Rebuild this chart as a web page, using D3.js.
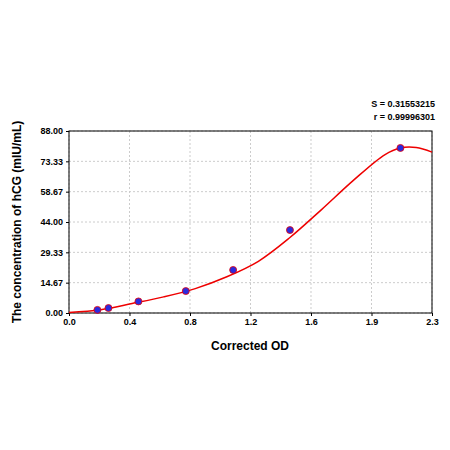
<!DOCTYPE html><html><head><meta charset="utf-8">
<script src="https://cdn.jsdelivr.net/npm/d3@7"></script>
<style>body{margin:0;background:#fff}text{font-family:"Liberation Sans",Arial,sans-serif}</style></head><body>
<svg id="c" width="450" height="450"></svg>
<script>
const xTickVals=[0,0.3833,0.7667,1.15,1.5333,1.9167,2.3];
const xTickLabels=["0.0","0.4","0.8","1.2","1.6","1.9","2.3"];
const yTickVals=[0,14.67,29.33,44,58.67,73.33,88];
const yTickLabels=["0.00","14.67","29.33","44.00","58.67","73.33","88.00"];
const ptX=[0.18,0.25,0.44,0.74,1.04,1.40,2.10];
const ptY=[1.5,2.4,5.6,10.6,20.8,40.1,79.8];
const curveX=[0,0.2,0.4,0.6,0.8,1.0,1.2,1.4,1.6,1.8,2.0,2.1,2.2,2.3];
const curveY=[0.3,1.6,4.6,7.8,11.8,17.5,25,36.5,50,64,76.5,79.8,80,77.8];
const svg=d3.select("#c");
const x=d3.scaleLinear().domain([0,2.3]).range([69,432]);
const y=d3.scaleLinear().domain([0,88]).range([313,131]);
const g=svg.append("g");
g.selectAll(".gx").data(xTickVals).join("line").attr("x1",d=>x(d)).attr("x2",d=>x(d)).attr("y1",131).attr("y2",313).attr("stroke","#ccc").attr("stroke-dasharray","2,2");
g.selectAll(".gy").data(yTickVals).join("line").attr("y1",d=>y(d)).attr("y2",d=>y(d)).attr("x1",69).attr("x2",432).attr("stroke","#ccc").attr("stroke-dasharray","2,2");
svg.append("rect").attr("x",69).attr("y",131).attr("width",363).attr("height",182).attr("fill","none").attr("stroke","#000");
const xa=svg.append("g").attr("transform","translate(0,313)").call(d3.axisBottom(x).tickValues(xTickVals).tickFormat((d,i)=>xTickLabels[i]).tickSize(3));
const ya=svg.append("g").attr("transform","translate(69,0)").call(d3.axisLeft(y).tickValues(yTickVals).tickFormat((d,i)=>yTickLabels[i]).tickSize(3));
[xa,ya].forEach(a=>{a.selectAll("text").attr("font-size",9).attr("font-weight","bold").attr("font-family","Liberation Sans");a.select(".domain").remove();});
svg.append("path").datum(curveX.map((d,i)=>[d,curveY[i]])).attr("fill","none").attr("stroke","#e00").attr("stroke-width",1.5)
 .attr("d",d3.line().x(d=>x(d[0])).y(d=>y(d[1])).curve(d3.curveCatmullRom));
svg.selectAll(".p").data(ptX.map((d,i)=>[d,ptY[i]])).join("circle").attr("cx",d=>x(d[0])).attr("cy",d=>y(d[1])).attr("r",3.5).attr("fill","#2a2adf").attr("stroke","#e00").attr("stroke-width",0.8);
svg.append("text").attr("x",250).attr("y",350).attr("text-anchor","middle").attr("font-size",12).attr("font-weight","bold").text("Corrected OD");
svg.append("text").attr("transform","translate(21,222) rotate(-90)").attr("text-anchor","middle").attr("font-size",12).attr("font-weight","bold").text("The concentration of hCG (mIU/mL)");
svg.append("text").attr("x",435).attr("y",107).attr("text-anchor","end").attr("font-size",9).attr("font-weight","bold").text("S = 0.31553215");
svg.append("text").attr("x",435).attr("y",120).attr("text-anchor","end").attr("font-size",9).attr("font-weight","bold").text("r = 0.99996301");
</script></body></html>
